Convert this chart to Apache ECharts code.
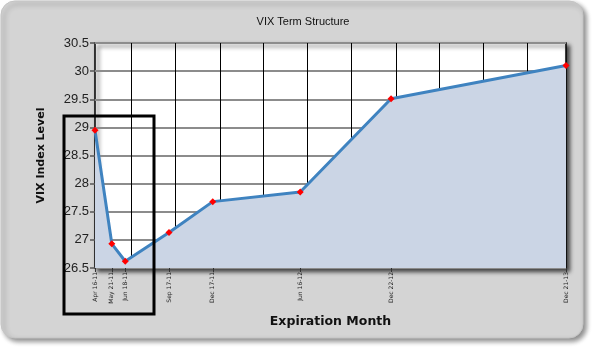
<!DOCTYPE html>
<html>
<head>
<meta charset="utf-8">
<script src="https://cdn.jsdelivr.net/npm/echarts@6/dist/echarts.min.js"></script>
<style>
  html, body { margin: 0; padding: 0; background: #fff; }
  #chart { width: 594px; height: 351px; }
</style>
</head>
<body>
<div id="chart"></div>
<script>
// expiration dates and VIX futures levels
var expiries = ['2011-04-16', '2011-05-21', '2011-06-18', '2011-09-17', '2011-12-17', '2012-06-16', '2012-12-22', '2013-12-21']
var vixLevels = [28.95, 26.93, 26.62, 27.13, 27.68, 27.85, 29.51, 30.10]
// quarter boundaries used for the vertical grid lines
var quarterLines = ['2011-07-01', '2011-10-01', '2012-01-01', '2012-04-01', '2012-07-01', '2012-10-01',
  '2013-01-01', '2013-04-01', '2013-07-01', '2013-10-01']
var yTicks = [26.5, 27, 27.5, 28, 28.5, 29, 29.5, 30, 30.5]

var monthNames = ['Jan', 'Feb', 'Mar', 'Apr', 'May', 'Jun', 'Jul', 'Aug', 'Sep', 'Oct', 'Nov', 'Dec']
function ts(s) { return new Date(s + 'T00:00:00').getTime() }
function fmtDate(v) {
  var d = new Date(v)
  var dd = d.getDate()
  return monthNames[d.getMonth()] + ' ' + (dd < 10 ? '0' + dd : dd) + '-' + String(d.getFullYear()).slice(2)
}

var chart = echarts.init(document.getElementById('chart'))
var xMin = ts(expiries[0])
var xMax = ts(expiries[expiries.length - 1])
var expiryTs = expiries.map(ts)
var seriesData = expiries.map(function (d, i) { return [expiryTs[i], vixLevels[i]] })

var option = {
  animation: false,
  title: {
    text: 'VIX Term Structure',
    left: 298,
    textAlign: 'center',
    top: 11,
    textStyle: { fontFamily: 'Arial, Liberation Sans', fontSize: 11, fontWeight: 'normal', color: '#111' }
  },
  graphic: [
    {
      type: 'rect',
      z: -10,
      shape: { x: 1, y: 1, width: 582, height: 337, r: 14 },
      style: {
        fill: '#d4d4d4', stroke: '#c4c4c4', lineWidth: 1,
        shadowBlur: 5, shadowOffsetX: 3, shadowOffsetY: 3, shadowColor: 'rgba(0,0,0,0.45)'
      }
    },
    {
      type: 'rect',
      z: 100,
      shape: { x: 64, y: 116, width: 90, height: 198 },
      style: { fill: 'none', stroke: '#000', lineWidth: 3 }
    }
  ],
  grid: {
    left: 95, right: 28, top: 43, bottom: 83,
    show: true,
    backgroundColor: '#fff',
    borderColor: '#000',
    borderWidth: 1.5,
    shadowColor: 'rgba(0,0,0,0.7)',
    shadowBlur: 4,
    shadowOffsetX: 3,
    shadowOffsetY: 3
  },
  xAxis: [
    {
      type: 'value',
      min: xMin,
      max: xMax,
      name: 'Expiration Month',
      nameLocation: 'middle',
      nameGap: 47,
      nameTextStyle: { fontFamily: 'DejaVu Sans', fontWeight: 'bold', fontSize: 12.5, color: '#111' },
      axisLine: { show: false },
      axisTick: { show: true, customValues: expiryTs, length: 4, lineStyle: { color: '#333' } },
      axisLabel: {
        customValues: expiryTs,
        rotate: 90,
        fontSize: 6,
        fontFamily: 'DejaVu Sans',
        color: '#222',
        margin: 4,
        formatter: function (v) { return fmtDate(v) }
      },
      splitLine: { show: false }
    },
    {
      type: 'value',
      min: xMin,
      max: xMax,
      position: 'bottom',
      axisLine: { show: false },
      axisTick: { show: false, customValues: quarterLines.map(ts) },
      axisLabel: { show: false, customValues: quarterLines.map(ts) },
      splitLine: { show: true, lineStyle: { color: '#000', width: 1 } }
    }
  ],
  yAxis: {
    type: 'value',
    min: yTicks[0],
    max: yTicks[yTicks.length - 1],
    interval: 0.5,
    name: 'VIX Index Level',
    nameLocation: 'middle',
    nameGap: 48,
    nameTextStyle: { fontFamily: 'DejaVu Sans', fontWeight: 'bold', fontSize: 11, color: '#111' },
    axisLine: { show: false },
    axisTick: { show: true, length: 5, lineStyle: { color: '#555', width: 1.5 } },
    axisLabel: { fontFamily: 'Arial, Liberation Sans', fontSize: 13, color: '#222', margin: 6 },
    splitLine: { show: true, lineStyle: { color: '#8c8c8c', width: 2 } }
  },
  series: [{
    type: 'line',
    data: seriesData,
    symbol: 'diamond',
    symbolSize: 7,
    itemStyle: { color: '#f00' },
    lineStyle: { color: '#3f83c0', width: 3 },
    areaStyle: { color: '#cbd5e5', opacity: 1 },
    z: 3
  }]
}
chart.setOption(option)
</script>
</body>
</html>
